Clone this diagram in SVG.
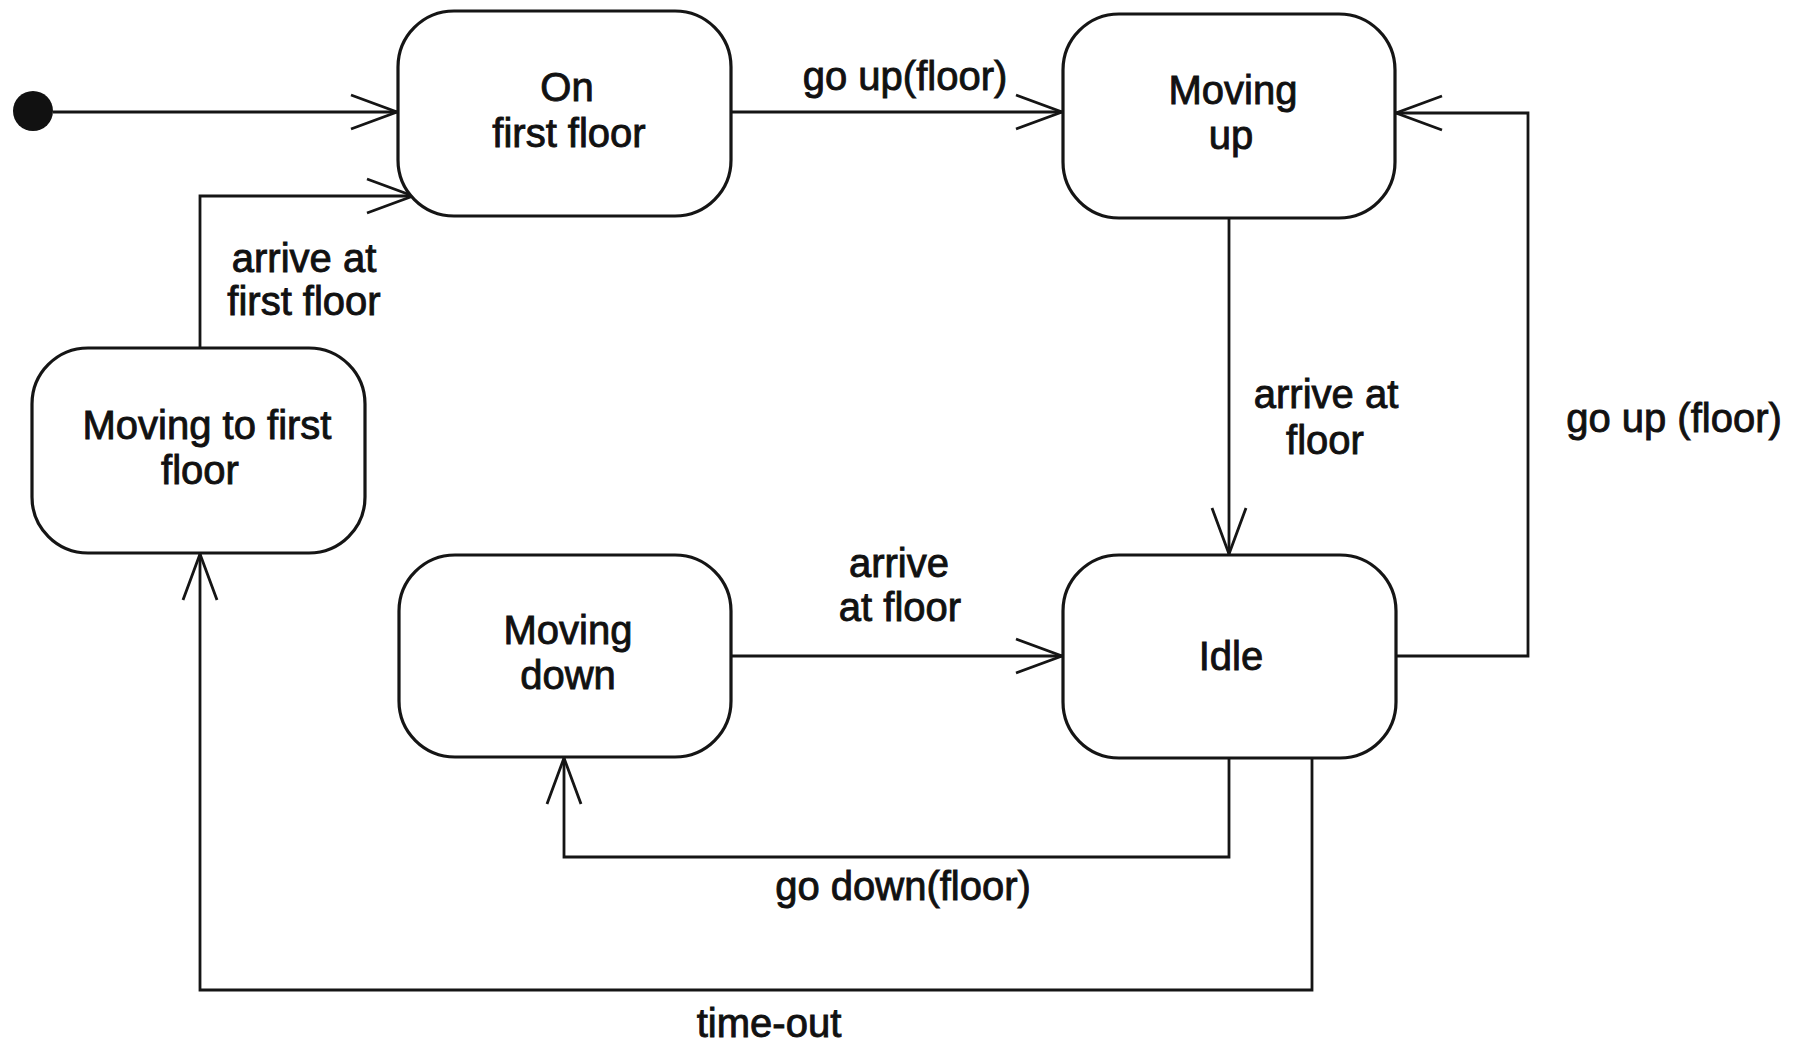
<svg xmlns="http://www.w3.org/2000/svg" width="1796" height="1042" viewBox="0 0 1796 1042">
  <style>
    .state { fill: #ffffff; stroke: #151515; stroke-width: 3.2; }
    .lbl { font-family: "Liberation Sans", Arial, Helvetica, sans-serif; font-size: 40px; fill: #111111; stroke: #111111; stroke-width: 0.9; text-anchor: middle; }
    .conn { fill: none; stroke: #151515; stroke-width: 2.8; marker-end: url(#open); }
  </style>
  <defs>
    <marker id="open" markerUnits="userSpaceOnUse" markerWidth="52" markerHeight="40" viewBox="-50 -20 52 40" refX="0" refY="0" orient="auto">
      <path d="M-46,-17 L0,0 L-46,17" fill="none" stroke="#151515" stroke-width="2.8"/>
    </marker>
  </defs>
  <rect x="0" y="0" width="1796" height="1042" fill="#ffffff"/>

  <g id="connectors">
    <path class="conn" d="M 53 112 L 397 112"/>
    <path class="conn" d="M 731 112 L 1062 112"/>
    <path class="conn" d="M 1395 656 L 1528 656 L 1528 113 L 1396 113"/>
    <path class="conn" d="M 1229 218 L 1229 554"/>
    <path class="conn" d="M 731 656 L 1062 656"/>
    <path class="conn" d="M 1229 758 L 1229 857 L 564 857 L 564 758"/>
    <path class="conn" d="M 1312 758 L 1312 990 L 200 990 L 200 554"/>
    <path class="conn" d="M 200 348 L 200 196 L 413 196"/>
    <text class="lbl" x="905" y="90">go up(floor)</text>
    <text class="lbl" x="1326" y="408">arrive at</text>
    <text class="lbl" x="1325" y="454">floor</text>
    <text class="lbl" x="1674" y="432">go up (floor)</text>
    <text class="lbl" x="899" y="577">arrive</text>
    <text class="lbl" x="900" y="621">at floor</text>
    <text class="lbl" x="903" y="900">go down(floor)</text>
    <text class="lbl" x="769" y="1037">time-out</text>
    <text class="lbl" x="304" y="272">arrive at</text>
    <text class="lbl" x="304" y="315">first floor</text>
  </g>

  <g id="initial">
    <circle cx="33" cy="111" r="20" fill="#111111"/>
  </g>

  <g id="on-first-floor">
    <rect class="state" x="398" y="11" width="333" height="205" rx="56" ry="56"/>
    <text class="lbl" x="567" y="101">On</text>
    <text class="lbl" x="569" y="147">first floor</text>
  </g>

  <g id="moving-up">
    <rect class="state" x="1063" y="14" width="332" height="204" rx="56" ry="56"/>
    <text class="lbl" x="1233" y="104">Moving</text>
    <text class="lbl" x="1231" y="149">up</text>
  </g>

  <g id="moving-to-first-floor">
    <rect class="state" x="32" y="348" width="333" height="205" rx="56" ry="56"/>
    <text class="lbl" x="207" y="439">Moving to first</text>
    <text class="lbl" x="200" y="484">floor</text>
  </g>

  <g id="moving-down">
    <rect class="state" x="399" y="555" width="332" height="202" rx="56" ry="56"/>
    <text class="lbl" x="568" y="644">Moving</text>
    <text class="lbl" x="568" y="689">down</text>
  </g>

  <g id="idle">
    <rect class="state" x="1063" y="555" width="333" height="203" rx="56" ry="56"/>
    <text class="lbl" x="1231" y="670">Idle</text>
  </g>
</svg>
